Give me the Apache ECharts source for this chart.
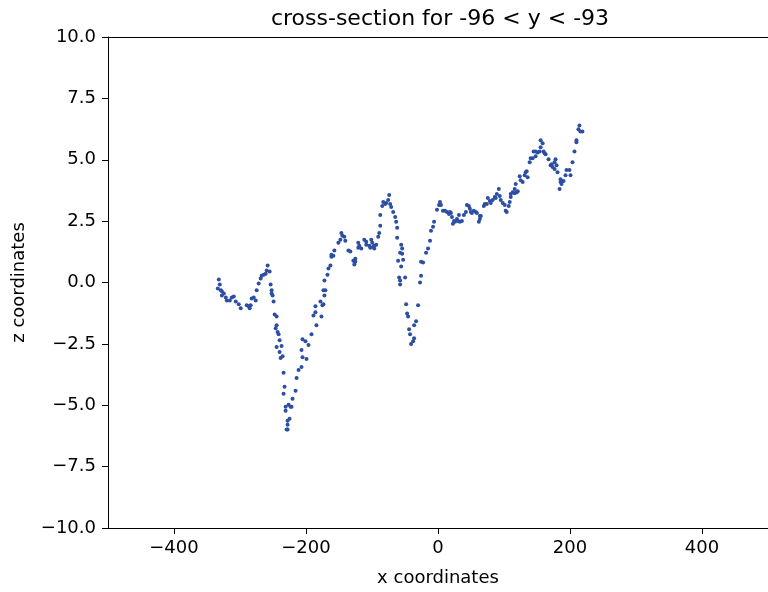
<!DOCTYPE html>
<html>
<head>
<meta charset="utf-8">
<script src="https://cdn.jsdelivr.net/npm/echarts@6/dist/echarts.min.js"></script>
<style>html,body{margin:0;padding:0;background:#fff}#c{width:768px;height:592px}</style>
</head>
<body>
<div id="c"></div>
<script>
const titleText = 'cross-section for -96 < y < -93';
const xName = 'x coordinates';
const yName = 'z coordinates';
const xTicks = [-400, -200, 0, 200, 400];
const yTicks = [-10, -7.5, -5, -2.5, 0, 2.5, 5, 7.5, 10];

const xValues = [
-332.1,-330.6,-333.6,-329.0,-327.5,-324.5,-327.5,-321.5,-320.0,-315.5,-312.5,-309.4,-306.4,-301.9,-298.9,-289.8,-286.8,-283.8,-285.3,-282.3,
-279.2,-276.2,-274.7,-271.7,-268.7,-267.2,-264.1,-261.1,-259.6,-258.1,-255.1,-253.6,-252.1,-252.1,-250.6,-249.1,-247.5,-244.5,-244.5,-246.0,
-243.0,-241.5,-240.0,-244.5,-237.0,-240.0,-235.5,-238.5,-234.0,-232.5,-234.0,-230.9,-230.9,-226.4,-223.4,-224.9,-227.9,-227.9,-227.9,-229.4,
-221.9,-220.4,-215.8,-214.3,-211.3,-206.8,-205.3,-199.2,-206.8,-196.2,-200.8,-205.3,
-191.7,-188.7,-185.7,-184.2,-185.7,-178.1,-176.6,-175.1,-173.6,-173.6,-170.6,-172.1,-172.1,-167.5,-166.0,-163.0,-161.5,-158.5,-161.5,-157.0,
-150.9,-147.9,-146.4,-144.9,-141.9,-140.4,-135.8,-132.8,-128.3,-126.8,-125.3,-125.3,-120.8,-119.2,-120.8,-116.2,-111.7,-108.7,-108.7,-104.1,
-102.6,-101.1,-99.6,-98.1,-96.6,-93.6,-96.6,
-90.6,-89.1,-87.5,-87.5,-84.5,-83.0,-80.0,-78.5,-74.0,-75.5,-72.5,-70.9,-67.9,-64.9,-63.4,-61.9,-61.9,-55.8,-54.3,-57.4,
-54.3,-52.8,-60.4,-55.8,-58.9,-49.8,-57.4,-57.4,-48.3,-46.8,-45.3,-30.2,-33.2,-36.2,-43.8,-42.3,-36.2,-37.7,-40.8,-27.2,
-25.7,-25.7,-22.6,-18.1,
-15.1,-12.1,-10.6,-7.5,-6.0,-1.5,1.5,4.5,3.0,7.5,10.6,13.6,18.1,19.6,16.6,21.1,24.2,22.6,25.7,28.7,
31.7,30.2,33.2,36.2,39.2,42.3,43.8,46.8,48.3,49.8,51.3,54.3,57.4,58.9,63.4,64.9,63.4,61.9,69.4,70.9,
74.0,75.5,78.5,80.0,83.0,86.0,87.5,89.1,92.1,93.6,95.1,98.1,101.1,102.6,104.1,107.2,108.7,110.2,110.2,113.2,
116.2,119.2,116.2,117.7,
120.8,123.8,125.3,128.3,131.3,132.8,135.8,134.3,138.9,140.4,143.4,144.9,147.9,150.9,147.9,154.0,155.5,155.5,158.5,160.0,
161.5,163.0,167.5,170.6,172.1,173.6,176.6,178.1,179.6,176.6,181.1,185.7,185.7,187.2,184.2,190.2,193.2,194.7,199.2,200.8,
203.8,206.8,209.8,209.8,212.8,214.3,215.8,218.8
];
const zValues = [
0.12,-0.08,-0.24,-0.32,-0.36,-0.45,-0.53,-0.61,-0.73,-0.73,-0.61,-0.57,-0.77,-0.89,-1.05,-0.93,-0.97,-0.93,-1.05,-0.65,
-0.61,-0.73,-0.32,-0.04,0.16,0.28,0.32,0.36,0.49,0.69,0.45,-0.08,-0.32,-0.45,-0.53,-0.77,-1.30,-1.38,-1.74,-1.86,
-2.02,-2.11,-2.35,-2.63,-2.59,-2.83,-3.00,-3.08,-3.68,-4.25,-4.53,-5.06,-5.22,-4.98,-5.06,-5.55,-5.63,-5.79,-5.99,-5.99,
-5.06,-4.74,-4.41,-3.89,-3.56,-3.44,-3.04,-3.12,-2.75,-2.55,-2.39,-2.31,
-2.11,-1.34,-1.21,-1.74,-0.97,-0.77,-1.38,-0.93,-0.89,-0.32,-0.32,-0.53,0.08,0.32,0.57,0.69,1.05,1.09,1.13,1.30,
1.62,1.74,2.02,1.90,1.86,1.70,1.30,1.26,0.89,0.73,0.97,0.85,1.62,1.50,1.42,1.38,1.74,1.66,1.54,1.50,
1.42,1.74,1.62,1.46,1.38,1.54,1.50,
1.86,2.02,2.31,2.75,3.12,3.28,3.20,3.24,3.56,3.36,3.20,3.08,2.87,2.67,2.47,2.23,1.82,1.54,1.38,1.21,
1.17,0.93,0.89,0.65,0.20,0.20,0.08,-0.08,-0.89,-1.26,-1.38,-0.93,-1.58,-1.74,-1.90,-2.11,-2.27,-2.39,-2.51,0.00,
0.28,0.85,0.81,1.21,
1.38,1.70,2.11,2.27,2.47,2.96,3.16,3.16,3.28,2.92,2.92,2.87,2.87,2.83,2.79,2.67,2.51,2.39,2.47,2.59,
2.75,2.51,2.47,2.51,2.75,2.87,3.16,3.12,3.00,2.87,2.83,2.92,2.87,2.83,2.71,2.71,2.59,2.47,3.12,3.20,
3.20,3.44,3.32,3.24,3.36,3.48,3.44,3.60,3.81,3.52,3.36,3.24,3.16,2.92,2.87,3.12,3.28,3.48,3.60,3.68,
3.64,3.68,3.81,4.01,
3.72,4.33,4.17,4.09,4.37,4.49,4.29,4.53,4.90,5.06,5.06,5.34,5.34,5.30,5.14,5.34,5.51,5.79,5.67,5.34,
5.26,5.22,5.02,4.78,4.82,4.70,4.90,5.02,4.78,4.62,4.49,4.21,4.09,4.01,3.81,4.13,4.37,4.58,4.58,4.37,
4.90,5.34,5.79,5.71,6.24,6.40,6.15,6.15
];

const points = xValues.map((x, i) => [x, zValues[i]]);
const minus = s => String(s).replace('-', '\u2212');
const font = 'DejaVu Sans';

const chart = echarts.init(document.getElementById('c'), null, {renderer: 'canvas'});
chart.setOption({
  animation: false,
  backgroundColor: '#ffffff',
  title: {
    text: titleText, left: 440, top: 8, textAlign: 'center', padding: 0,
    textStyle: {fontFamily: font, fontSize: 22, fontWeight: 'normal', color: '#000'}
  },
  grid: {left: 108, top: 37, bottom: 61, width: 663, containLabel: false},
  xAxis: [{
    type: 'value', min: -500, max: 500,
    name: xName, nameLocation: 'middle', nameGap: 41,
    nameTextStyle: {fontFamily: font, fontSize: 18, color: '#000'},
    axisLine: {show: true, onZero: false, lineStyle: {color: '#000', width: 1}},
    axisTick: {show: true, length: 6, inside: false, customValues: xTicks, lineStyle: {color: '#000'}},
    axisLabel: {show: true, customValues: xTicks, margin: 11, fontFamily: font, fontSize: 18, color: '#000', formatter: v => minus(v)},
    splitLine: {show: false}
  }, {
    type: 'value', min: -500, max: 500, position: 'top',
    axisLine: {show: true, onZero: false, lineStyle: {color: '#000', width: 1}},
    axisTick: {show: false}, axisLabel: {show: false}, splitLine: {show: false}
  }],
  yAxis: [{
    type: 'value', min: -10, max: 10, interval: 2.5,
    name: yName, nameLocation: 'middle', nameGap: 80, nameRotate: 90,
    nameTextStyle: {fontFamily: font, fontSize: 18, color: '#000'},
    axisLine: {show: true, onZero: false, lineStyle: {color: '#000', width: 1}},
    axisTick: {show: true, length: 6, inside: false, lineStyle: {color: '#000'}},
    axisLabel: {show: true, margin: 12, fontFamily: font, fontSize: 18, color: '#000', formatter: v => minus(v.toFixed(1))},
    splitLine: {show: false}
  }],
  series: [{
    type: 'scatter', xAxisIndex: 0, yAxisIndex: 0,
    data: points, symbol: 'circle', symbolSize: 4,
    itemStyle: {color: '#2c4ea3', opacity: 1},
    silent: true
  }]
});
</script>
</body>
</html>
